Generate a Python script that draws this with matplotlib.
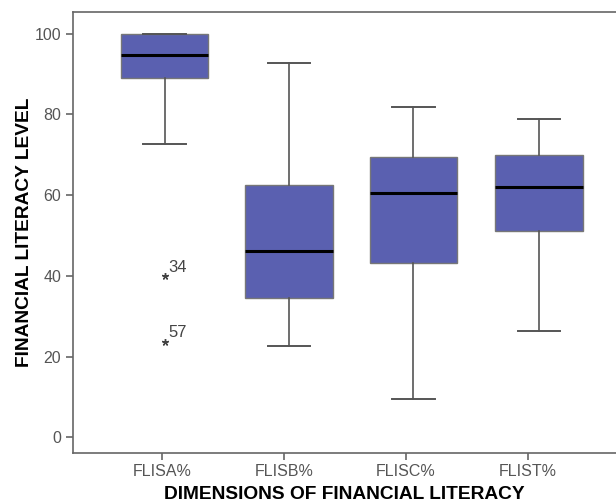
import matplotlib
matplotlib.use("Agg")
import matplotlib.pyplot as plt

categories = ["FLISA%", "FLISB%", "FLISC%", "FLIST%"]
whislo = [72.6, 22.7, 9.5, 26.4]
q1 = [89.0, 34.5, 43.3, 51.1]
med = [94.6, 46.2, 60.5, 62.0]
q3 = [100.0, 62.5, 69.5, 70.0]
whishi = [100.0, 92.8, 81.8, 78.9]
outliers = [[40.0, 23.7], [], [], []]
outlier_labels = [["34", "57"], [], [], []]

plt.rcParams['font.family'] = ['Liberation Sans', 'DejaVu Sans']

fig = plt.figure(figsize=(6.16, 5.04), dpi=100)
ax = fig.add_axes([0.1185, 0.102, 0.8815, 0.8736])

box_positions = [1.02, 2.04, 3.06, 4.09]

stats = []
for i, c in enumerate(categories):
    stats.append(dict(label=c, whislo=whislo[i], q1=q1[i], med=med[i],
                      q3=q3[i], whishi=whishi[i], fliers=outliers[i]))

ax.bxp(stats, positions=box_positions, widths=0.72, patch_artist=True,
       manage_ticks=False,
       boxprops=dict(facecolor="#5A60B0", edgecolor="#777777", linewidth=1.0),
       medianprops=dict(color="black", linewidth=2.2),
       whiskerprops=dict(color="#555555", linewidth=1.2),
       capprops=dict(color="#555555", linewidth=1.4),
       capwidths=0.35,
       flierprops=dict(marker=(5, 2, 0), markersize=5, markeredgecolor="#444444",
                       markeredgewidth=1.0, linestyle="none"))

for i, (vals, labs) in enumerate(zip(outliers, outlier_labels)):
    for v, l in zip(vals, labs):
        ax.annotate(l, (box_positions[i], v), xytext=(3, 3), textcoords="offset points",
                    fontsize=12, color="#444444")

ax.set_xlim(0.27, 4.72)
ax.set_ylim(-3.8, 105.3)
ax.set_yticks([0, 20, 40, 60, 80, 100])
ax.set_xticks(range(1, 5))
ax.set_xticklabels(categories)

for s in ["left", "top", "bottom"]:
    ax.spines[s].set_color("#666666")
    ax.spines[s].set_linewidth(1.2)
ax.spines["right"].set_visible(False)
ax.tick_params(axis="both", colors="#666666", length=5, width=1.2,
               labelsize=11.5, labelcolor="#555555")

ax.set_ylabel("FINANCIAL LITERACY LEVEL", fontsize=13.8, fontweight="bold",
              color="black", labelpad=1)
ax.set_xlabel("DIMENSIONS OF FINANCIAL LITERACY", fontsize=13.8,
              fontweight="bold", color="black", labelpad=5)

fig.savefig("out.png", dpi=100)
